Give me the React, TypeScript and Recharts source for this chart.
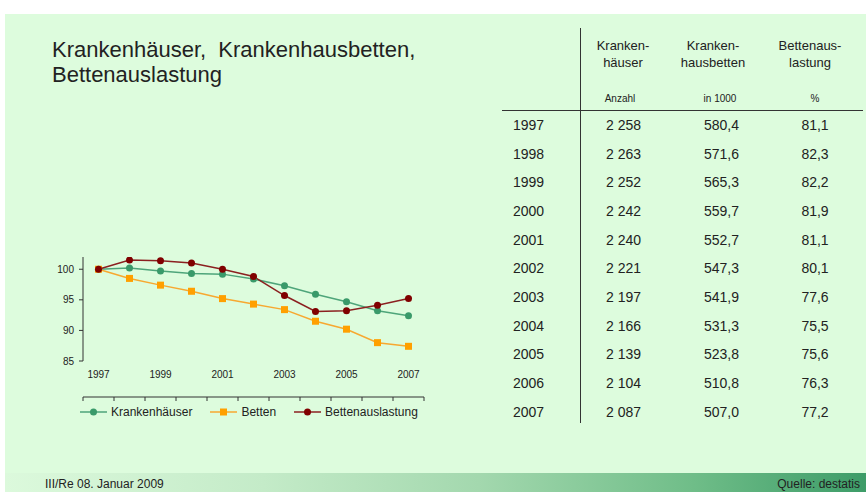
import { LineChart, Line, XAxis, YAxis, Legend } from "recharts";

// Index 1997 = 100
const years = [1997, 1998, 1999, 2000, 2001, 2002, 2003, 2004, 2005, 2006, 2007];
const krankenhaeuserIndex = [100, 100.2, 99.7, 99.3, 99.2, 98.4, 97.3, 95.9, 94.7, 93.2, 92.4];
const bettenIndex = [100, 98.5, 97.4, 96.4, 95.2, 94.3, 93.4, 91.5, 90.2, 88.0, 87.4];
const auslastungIndex = [100, 101.5, 101.4, 101.0, 100.0, 98.8, 95.7, 93.1, 93.2, 94.1, 95.2];

// table on the right
const anzahl = [2258, 2263, 2252, 2242, 2240, 2221, 2197, 2166, 2139, 2104, 2087];
const bettenTsd = [580.4, 571.6, 565.3, 559.7, 552.7, 547.3, 541.9, 531.3, 523.8, 510.8, 507.0];
const auslastungPct = [81.1, 82.3, 82.2, 81.9, 81.1, 80.1, 77.6, 75.5, 75.6, 76.3, 77.2];

const xTickMarks = [1996.5, 1997.5, 1998.5, 1999.5, 2000.5, 2001.5, 2002.5, 2003.5, 2004.5, 2005.5, 2006.5, 2007.5];
const xLabels = [1997, 1999, 2001, 2003, 2005, 2007];
const yTicks = [85, 90, 95, 100];

const chartData = years.map((year, i) => ({
  year,
  krankenhaeuser: krankenhaeuserIndex[i],
  betten: bettenIndex[i],
  auslastung: auslastungIndex[i],
}));

const FONT = '"Liberation Sans", Arial, sans-serif';
const TEXT = "#222";
const GREEN = "#3a9a6a";
const ORANGE = "#ffa000";
const DARKRED = "#800000";

const fmtAnzahl = (n: number) => `${Math.floor(n / 1000)} ${String(n % 1000).padStart(3, "0")}`;
const fmtDec = (n: number) => n.toFixed(1).replace(".", ",");

const SquareDot = (props: any) => {
  const { cx, cy, index } = props;
  if (cx == null || cy == null) return null;
  return <rect key={`sq-${index}`} x={cx - 3.5} y={cy - 3.5} width={7} height={7} fill={ORANGE} />;
};

function ChartLegend() {
  const items = [
    { name: "Krankenhäuser", line: "#4ea57a", marker: "circle", color: GREEN },
    { name: "Betten", line: "#f7a830", marker: "square", color: ORANGE },
    { name: "Bettenauslastung", line: "#8b2020", marker: "circle", color: DARKRED },
  ];
  return (
    <div style={{ display: "flex", alignItems: "center", height: 20, paddingLeft: 50, fontSize: 12, color: TEXT, fontFamily: FONT }}>
      {items.map((it) => (
        <div key={it.name} style={{ display: "flex", alignItems: "center", marginRight: 18 }}>
          <svg width={27} height={10}>
            <line x1={0} y1={5} x2={27} y2={5} stroke={it.line} strokeWidth={1.5} />
            {it.marker === "circle" ? (
              <circle cx={13.5} cy={5} r={3.5} fill={it.color} />
            ) : (
              <rect x={10} y={1.5} width={7} height={7} fill={it.color} />
            )}
          </svg>
          <span style={{ marginLeft: 4 }}>{it.name}</span>
        </div>
      ))}
    </div>
  );
}

const abs = (left: number, top: number, extra: any = {}) => ({ position: "absolute" as const, left, top, ...extra });

export default function App() {
  const rowY = (i: number) => 125 + i * 28.67;
  return (
    <div style={{ position: "absolute", left: 0, top: 0, width: 866, height: 492, background: "#fff", fontFamily: FONT, color: TEXT, overflow: "hidden" }}>
      {/* slide background */}
      <div style={abs(5, 14, { width: 861, height: 459, background: "#ddfcdd" })} />
      <div
        style={abs(5, 473, {
          width: 861,
          height: 19,
          background: "linear-gradient(to right, #dcf9dc 0%, #c4ebc8 30%, #a3d8ae 55%, #6fbd88 80%, #3d9c68 100%)",
        })}
      />
      <div style={abs(45, 477, { fontSize: 12, lineHeight: "14px", fontFamily: '"Liberation Sans Narrow", "Arial Narrow", ' + FONT })}>
        III/Re 08. Januar 2009
      </div>
      <div style={abs(760, 477, { width: 100, textAlign: "right", fontSize: 12, lineHeight: "14px", fontFamily: '"Liberation Sans Narrow", "Arial Narrow", ' + FONT })}>
        Quelle: destatis
      </div>

      {/* title */}
      <div style={abs(52, 37, { fontSize: 22, lineHeight: "25px", whiteSpace: "pre" })}>
        {"Krankenhäuser,  Krankenhausbetten,\nBettenauslastung"}
      </div>

      {/* chart */}
      <div style={abs(30, 250)}>
        <LineChart width={404} height={177} data={chartData} margin={{ top: 7, right: 10, bottom: 5, left: 0 }}>
          <XAxis
            xAxisId="marks"
            type="number"
            dataKey="year"
            domain={[1996.5, 2007.5]}
            ticks={xTickMarks}
            interval={0}
            tickFormatter={() => ""}
            tickSize={4}
            height={5}
            stroke="#333"
          />
          <XAxis
            xAxisId="labels"
            type="number"
            dataKey="year"
            domain={[1996.5, 2007.5]}
            ticks={xLabels}
            interval={0}
            axisLine={false}
            tickLine={false}
            tickSize={0}
            tickMargin={10}
            height={36}
            tick={{ fontSize: 10, fill: TEXT, fontFamily: FONT }}
          />
          <YAxis
            type="number"
            domain={[85, 102]}
            ticks={yTicks}
            interval={0}
            allowDataOverflow
            width={53}
            tickSize={4}
            tickMargin={5}
            stroke="#333"
            tick={{ fontSize: 10, fill: TEXT, fontFamily: FONT }}
          />
          <Legend verticalAlign="bottom" wrapperStyle={{ left: 0, width: 404, bottom: 5 }} content={() => <ChartLegend />} />
          <Line
            xAxisId="marks"
            dataKey="krankenhaeuser"
            name="Krankenhäuser"
            type="linear"
            stroke="#4ea57a"
            strokeWidth={1.5}
            dot={{ r: 3.5, fill: GREEN, stroke: "none" }}
            isAnimationActive={false}
          />
          <Line
            xAxisId="marks"
            dataKey="betten"
            name="Betten"
            type="linear"
            stroke="#f7a830"
            strokeWidth={1.5}
            dot={SquareDot}
            isAnimationActive={false}
          />
          <Line
            xAxisId="marks"
            dataKey="auslastung"
            name="Bettenauslastung"
            type="linear"
            stroke="#8b2020"
            strokeWidth={1.5}
            dot={{ r: 3.5, fill: DARKRED, stroke: "none" }}
            isAnimationActive={false}
          />
        </LineChart>
      </div>

      {/* table */}
      <div style={abs(580, 28, { width: 1, height: 395, background: "#333" })} />
      <div style={abs(502, 110, { width: 361, height: 1, background: "#333" })} />

      {[
        { cx: 623, head: "Kranken-\nhäuser", unit: "Anzahl", unitX: 620 },
        { cx: 713, head: "Kranken-\nhausbetten", unit: "in 1000", unitX: 720 },
        { cx: 810, head: "Bettenaus-\nlastung", unit: "%", unitX: 815 },
      ].map((h) => (
        <div key={h.head}>
          <div style={abs(h.cx - 60, 38, { width: 120, textAlign: "center", fontSize: 13, lineHeight: "16.5px", whiteSpace: "pre" })}>
            {h.head}
          </div>
          <div style={abs(h.unitX - 50, 92, { width: 100, textAlign: "center", fontSize: 10, lineHeight: "14px" })}>{h.unit}</div>
        </div>
      ))}

      {years.map((y, i) => (
        <div key={y}>
          <div style={abs(513, rowY(i) - 10, { fontSize: 14, lineHeight: "20px" })}>{y}</div>
          <div style={abs(623.5 - 50, rowY(i) - 10, { width: 100, textAlign: "center", fontSize: 14, lineHeight: "20px" })}>
            {fmtAnzahl(anzahl[i])}
          </div>
          <div style={abs(721.5 - 50, rowY(i) - 10, { width: 100, textAlign: "center", fontSize: 14, lineHeight: "20px" })}>
            {fmtDec(bettenTsd[i])}
          </div>
          <div style={abs(815 - 50, rowY(i) - 10, { width: 100, textAlign: "center", fontSize: 14, lineHeight: "20px" })}>
            {fmtDec(auslastungPct[i])}
          </div>
        </div>
      ))}
    </div>
  );
}
